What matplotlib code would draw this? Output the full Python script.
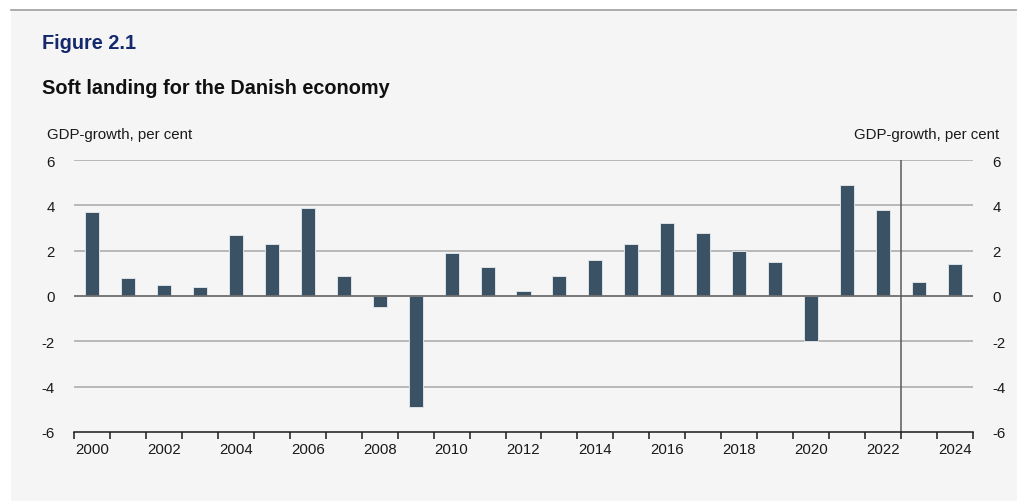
import numpy as np
import matplotlib
matplotlib.use("Agg")
import matplotlib.pyplot as plt
from matplotlib.patches import Rectangle
from matplotlib.lines import Line2D

plt.rcParams['font.family'] = ['Liberation Sans', 'DejaVu Sans']

# Annual real GDP growth, per cent
years = list(range(2000, 2025))
gdp_growth = [3.7, 0.8, 0.5, 0.4, 2.7, 2.3, 3.9, 0.9, -0.5, -4.9,
              1.9, 1.3, 0.2, 0.9, 1.6, 2.3, 3.2, 2.8, 2.0, 1.5,
              -2.0, 4.9, 3.8, 0.6, 1.4]
y_ticks = [-6, -4, -2, 0, 2, 4, 6]
x_label_years = [y for y in years if y % 2 == 0]
forecast_start = 2023  # forecast years begin here

W, H = 1017, 502
fig = plt.figure(figsize=(W / 100, H / 100), dpi=100)
fig.patch.set_facecolor('white')

# Grey panel and top rule
fig.add_artist(Rectangle((11 / W, -0.02), 1.02 - 11 / W, 1.02 - 10 / H,
                         transform=fig.transFigure, facecolor='#f5f5f5',
                         edgecolor='none', zorder=-10))
fig.add_artist(Line2D([11 / W, 1016 / W], [1 - 10.5 / H, 1 - 10.5 / H],
                      transform=fig.transFigure, color='#a6a6a6', lw=1.3))

ax = fig.add_axes([74 / W, 1 - 433 / H, (973 - 74) / W, (433 - 161) / H])
ax.set_facecolor('none')

x = np.arange(len(years))
ax.bar(x, gdp_growth, width=0.39, color='#3b5264', edgecolor='#dde3e8',
       linewidth=0.7, zorder=3)

ax.set_xlim(-0.5, len(years) - 0.5)
ax.set_ylim(y_ticks[0], y_ticks[-1])

# Horizontal grid lines
for v in y_ticks[1:]:
    ax.axhline(v, color='#6e6e6e' if v == 0 else '#a8a8a8',
               lw=1.3 if v == 0 else 1.1, zorder=2 if v != 0 else 4)

# Forecast divider
fx = years.index(forecast_start) - 0.5
ax.axvline(fx, color='#5a5a5a', lw=1.1, zorder=4)

for s in ['top', 'left', 'right']:
    ax.spines[s].set_visible(False)
ax.spines['bottom'].set_color('#1a1a1a')
ax.spines['bottom'].set_linewidth(1.1)
ax.spines['bottom'].set_zorder(5)

# X axis: ticks at category boundaries, labels centred on bars
ax.set_xticks(np.arange(-0.5, len(years)), minor=True)
ax.set_xticks([years.index(y) for y in x_label_years])
ax.set_xticklabels([str(y) for y in x_label_years])
ax.tick_params(axis='x', which='minor', length=5, width=1.1, color='#1a1a1a',
               direction='out')
ax.tick_params(axis='x', which='major', length=0, pad=7, labelsize=10.8,
               labelcolor='#1a1a1a')

# Y axis labels on both sides
ax.set_yticks(y_ticks)
ax.set_yticklabels([str(v) for v in y_ticks])
ax.tick_params(axis='y', length=0, pad=14, labelsize=10.8, labelcolor='#1a1a1a',
               labelleft=True, labelright=True)

fig.text(42 / W, 1 - 49 / H, 'Figure 2.1', fontsize=14.3, fontweight='bold',
         color='#14286e', ha='left', va='baseline')
fig.text(42 / W, 1 - 94 / H, 'Soft landing for the Danish economy', fontsize=14.3,
         fontweight='bold', color='#111111', ha='left', va='baseline')
fig.text(47 / W, 1 - 139 / H, 'GDP-growth, per cent', fontsize=10.8,
         color='#1a1a1a', ha='left', va='baseline')
fig.text(999 / W, 1 - 139 / H, 'GDP-growth, per cent', fontsize=10.8,
         color='#1a1a1a', ha='right', va='baseline')

fig.savefig('out.png', dpi=100, facecolor=fig.get_facecolor())
